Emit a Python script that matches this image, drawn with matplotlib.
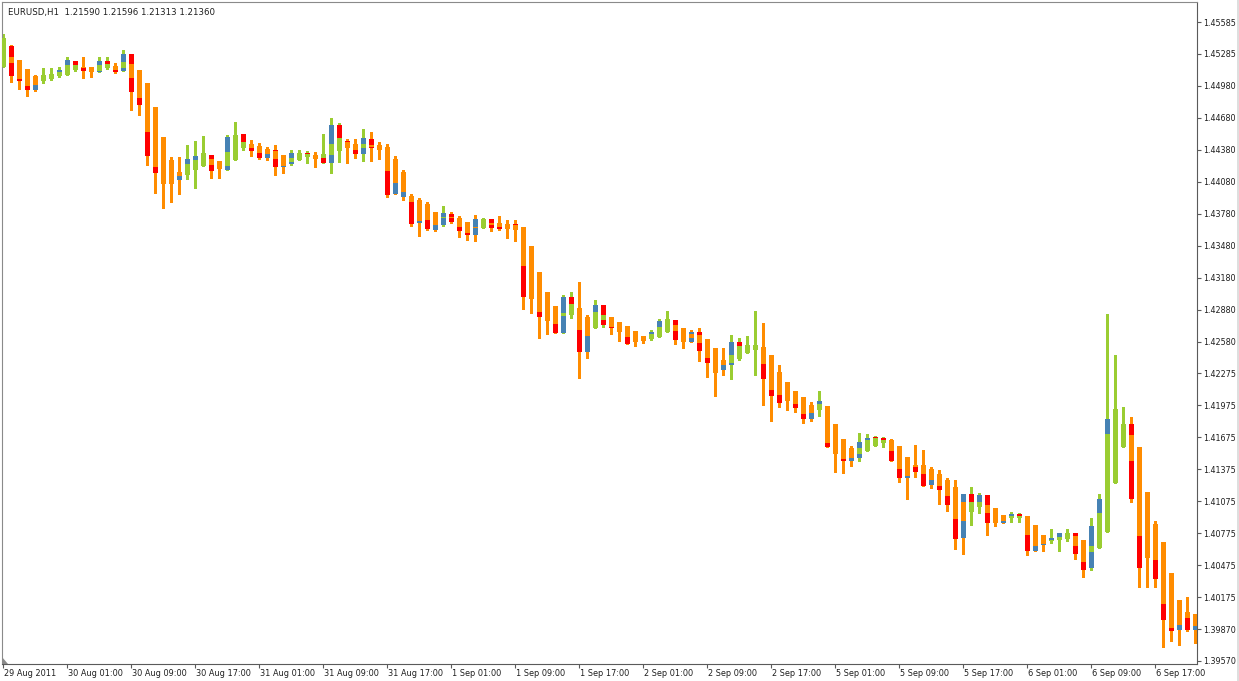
import matplotlib
matplotlib.use("Agg")
import matplotlib.pyplot as plt
import numpy as np
from matplotlib.patches import Polygon

# ---------------- data ----------------
title_text = "EURUSD,H1  1.21590 1.21596 1.21313 1.21360"

b_open = [
    1.45162, 1.45256, 1.45227, 1.45143, 1.45072, 1.45030, 1.45053, 1.45072, 1.45086, 1.45133,
    1.45164, 1.45164, 1.45127, 1.45155, 1.45171, 1.45149, 1.45187, 1.45133, 1.45011, 1.44785,
    1.44503, 1.44286, 1.44176, 1.44145, 1.44192, 1.44230, 1.44296, 1.44277, 1.44230, 1.44286,
    1.44397, 1.44437, 1.44418, 1.44390, 1.44374, 1.44333, 1.44270, 1.44286, 1.44318, 1.44333,
    1.44302, 1.44333, 1.44374, 1.44453, 1.44434, 1.44397, 1.44428, 1.44428, 1.44412, 1.44296,
    1.44174, 1.43948, 1.43910, 1.43872, 1.43794, 1.43738, 1.43743, 1.43743, 1.43706, 1.43656,
    1.43649, 1.43691, 1.43691, 1.43684, 1.43675, 1.43656, 1.43477, 1.43230, 1.43042, 1.42913,
    1.42821, 1.42828, 1.42891, 1.42812, 1.42708, 1.42781, 1.42806, 1.42765, 1.42724, 1.42677,
    1.42630, 1.42602, 1.42624, 1.42665, 1.42734, 1.42708, 1.42646, 1.42640, 1.42602, 1.42514,
    1.42404, 1.42373, 1.42414, 1.42473, 1.42499, 1.42524, 1.42451, 1.42292, 1.42197, 1.42113,
    1.42053, 1.41981, 1.41934, 1.41972, 1.41802, 1.41661, 1.41579, 1.41520, 1.41551, 1.41595,
    1.41626, 1.41652, 1.41595, 1.41492, 1.41416, 1.41416, 1.41379, 1.41332, 1.41275, 1.41207,
    1.41062, 1.40974, 1.41015, 1.41040, 1.41012, 1.40946, 1.40915, 1.40920, 1.40936, 1.40852,
    1.40758, 1.40695, 1.40711, 1.40717, 1.40748, 1.40711, 1.40600, 1.40629, 1.40789, 1.41250,
    1.41589, 1.41699, 1.41589, 1.41162, 1.40861, 1.40692, 1.40397, 1.40146, 1.40033, 1.40011,
]

b_close = [
    1.45434, 1.45199, 1.45044, 1.44983, 1.44992, 1.45086, 1.45096, 1.45110, 1.45180, 1.45180,
    1.45149, 1.45117, 1.45180, 1.45190, 1.45133, 1.45211, 1.45058, 1.44870, 1.44553, 1.44223,
    1.44061, 1.44061, 1.44136, 1.44246, 1.44282, 1.44355, 1.44239, 1.44199, 1.44362, 1.44522,
    1.44459, 1.44397, 1.44349, 1.44340, 1.44293, 1.44230, 1.44308, 1.44349, 1.44340, 1.44293,
    1.44343, 1.44437, 1.44491, 1.44397, 1.44381, 1.44434, 1.44406, 1.44381, 1.44183, 1.44067,
    1.43985, 1.43894, 1.43712, 1.43722, 1.43675, 1.43753, 1.43738, 1.43659, 1.43602, 1.43647,
    1.43731, 1.43675, 1.43659, 1.43634, 1.43628, 1.43292, 1.42978, 1.42853, 1.42771, 1.42743,
    1.42844, 1.42929, 1.42687, 1.42630, 1.42853, 1.42828, 1.42718, 1.42671, 1.42624, 1.42577,
    1.42583, 1.42646, 1.42712, 1.42790, 1.42677, 1.42577, 1.42609, 1.42567, 1.42420, 1.42285,
    1.42357, 1.42451, 1.42539, 1.42546, 1.42546, 1.42367, 1.42122, 1.42075, 1.42019, 1.41988,
    1.41896, 1.41903, 1.41990, 1.41621, 1.41520, 1.41470, 1.41485, 1.41574, 1.41652, 1.41668,
    1.41652, 1.41548, 1.41379, 1.41313, 1.41398, 1.41332, 1.41275, 1.41219, 1.41125, 1.40908,
    1.40892, 1.41062, 1.41071, 1.40962, 1.40873, 1.40889, 1.40936, 1.40936, 1.40758, 1.40654,
    1.40673, 1.40711, 1.40736, 1.40774, 1.40654, 1.40506, 1.40654, 1.40962, 1.41708, 1.41943,
    1.41802, 1.41454, 1.40742, 1.40544, 1.40522, 1.40108, 1.39880, 1.39911, 1.39979, 1.39895,
]

high = [
    1.45472, 1.45369, 1.45227, 1.45143, 1.45086, 1.45152, 1.45152, 1.45162, 1.45256, 1.45218,
    1.45256, 1.45164, 1.45256, 1.45251, 1.45196, 1.45322, 1.45284, 1.45133, 1.45011, 1.44785,
    1.44503, 1.44315, 1.44318, 1.44428, 1.44465, 1.44512, 1.44333, 1.44277, 1.44522, 1.44644,
    1.44528, 1.44475, 1.44444, 1.44412, 1.44428, 1.44333, 1.44381, 1.44381, 1.44374, 1.44359,
    1.44531, 1.44679, 1.44637, 1.44481, 1.44481, 1.44578, 1.44553, 1.44453, 1.44434, 1.44324,
    1.44192, 1.43966, 1.43929, 1.43891, 1.43797, 1.43854, 1.43800, 1.43762, 1.43706, 1.43769,
    1.43743, 1.43731, 1.43759, 1.43722, 1.43722, 1.43656, 1.43477, 1.43230, 1.43042, 1.42913,
    1.43016, 1.43042, 1.43136, 1.42828, 1.42969, 1.42922, 1.42806, 1.42765, 1.42724, 1.42677,
    1.42630, 1.42687, 1.42790, 1.42866, 1.42781, 1.42708, 1.42687, 1.42703, 1.42602, 1.42520,
    1.42514, 1.42640, 1.42609, 1.42633, 1.42866, 1.42755, 1.42451, 1.42357, 1.42197, 1.42113,
    1.42053, 1.42012, 1.42115, 1.41972, 1.41802, 1.41661, 1.41595, 1.41715, 1.41708, 1.41689,
    1.41683, 1.41658, 1.41595, 1.41492, 1.41605, 1.41558, 1.41400, 1.41369, 1.41291, 1.41275,
    1.41144, 1.41212, 1.41156, 1.41134, 1.41012, 1.40946, 1.40968, 1.40962, 1.40936, 1.40852,
    1.40758, 1.40811, 1.40774, 1.40811, 1.40774, 1.40711, 1.40915, 1.41141, 1.42837, 1.42451,
    1.41965, 1.41871, 1.41589, 1.41162, 1.40892, 1.40692, 1.40397, 1.40146, 1.40170, 1.40011,
]

low = [
    1.45162, 1.45020, 1.44955, 1.44889, 1.44936, 1.45011, 1.45039, 1.45067, 1.45086, 1.45124,
    1.45058, 1.45063, 1.45117, 1.45143, 1.45108, 1.45124, 1.44757, 1.44705, 1.44239, 1.43973,
    1.43832, 1.43894, 1.43966, 1.44108, 1.44023, 1.44230, 1.44117, 1.44120, 1.44192, 1.44286,
    1.44381, 1.44327, 1.44293, 1.44286, 1.44145, 1.44167, 1.44239, 1.44282, 1.44261, 1.44223,
    1.44261, 1.44167, 1.44270, 1.44255, 1.44308, 1.44280, 1.44280, 1.44293, 1.43935, 1.43966,
    1.43910, 1.43668, 1.43574, 1.43628, 1.43618, 1.43668, 1.43691, 1.43565, 1.43534, 1.43527,
    1.43649, 1.43621, 1.43630, 1.43555, 1.43527, 1.42884, 1.42844, 1.42609, 1.42646, 1.42658,
    1.42656, 1.42802, 1.42238, 1.42426, 1.42708, 1.42718, 1.42646, 1.42586, 1.42555, 1.42539,
    1.42562, 1.42593, 1.42624, 1.42665, 1.42555, 1.42520, 1.42574, 1.42398, 1.42247, 1.42066,
    1.42263, 1.42223, 1.42404, 1.42473, 1.42263, 1.41981, 1.41833, 1.41965, 1.41934, 1.41918,
    1.41814, 1.41833, 1.41877, 1.41583, 1.41353, 1.41344, 1.41410, 1.41457, 1.41551, 1.41595,
    1.41589, 1.41454, 1.41254, 1.41096, 1.41306, 1.41219, 1.41197, 1.41049, 1.40986, 1.40623,
    1.40579, 1.40852, 1.40962, 1.40758, 1.40845, 1.40873, 1.40883, 1.40883, 1.40569, 1.40610,
    1.40610, 1.40680, 1.40610, 1.40695, 1.40529, 1.40365, 1.40428, 1.40629, 1.40789, 1.41250,
    1.41589, 1.41071, 1.40266, 1.40266, 1.40266, 1.39701, 1.39754, 1.39723, 1.39848, 1.39739,
]

# second (overlay) candle body: None where it is not visible
a_open = [
    None, 1.45359, 1.45044, 1.44983, 1.44945, None, None, 1.45110, 1.45180, 1.45221,
    1.45149, None, 1.45117, 1.45218, 1.45133, 1.45124, 1.45284, 1.44870, 1.44553, 1.44223,
    None, None, 1.44098, 1.44246, 1.44282, None, 1.44333, None, 1.44192, None,
    1.44528, 1.44397, 1.44349, 1.44302, 1.44381, 1.44221, 1.44249, None, 1.44355, None,
    1.44302, 1.44261, 1.44616, 1.44460, 1.44381, 1.44343, 1.44484, None, 1.44183, 1.43966,
    1.43938, 1.43919, 1.43691, 1.43722, 1.43628, 1.43675, 1.43778, 1.43659, 1.43602, 1.43581,
    None, 1.43731, 1.43659, None, 1.43681, 1.43292, None, 1.42853, None, 1.42743,
    1.42661, 1.43000, 1.42687, 1.42483, 1.42853, 1.42922, 1.42718, None, 1.42624, None,
    None, 1.42646, 1.42712, None, 1.42781, None, 1.42577, 1.42671, 1.42420, None,
    1.42310, 1.42357, 1.42577, None, None, 1.42367, 1.42122, 1.42075, None, 1.41988,
    1.41896, 1.41849, 1.41990, 1.41621, None, 1.41470, 1.41457, 1.41485, 1.41652, 1.41683,
    1.41668, 1.41548, 1.41379, 1.41297, 1.41416, 1.41332, 1.41228, 1.41219, 1.41125, 1.40908,
    1.40732, 1.41144, 1.41071, 1.41134, None, 1.40873, 1.40915, 1.40955, 1.40758, 1.40610,
    1.40664, 1.40711, 1.40736, None, 1.40774, 1.40506, 1.40444, 1.40962, 1.41708, None,
    None, 1.41802, 1.40742, None, 1.40522, 1.40108, 1.39880, 1.39864, 1.39979, 1.39864,
]

a_close = [
    None, 1.45077, 1.45030, 1.44945, 1.44992, None, None, 1.45133, 1.45227, 1.45180,
    1.45124, None, 1.45218, 1.45190, 1.45117, 1.45284, 1.44929, 1.44804, 1.44324, 1.44167,
    None, None, 1.44136, 1.44296, 1.44324, None, 1.44183, None, 1.44506, None,
    1.44459, 1.44374, 1.44302, 1.44340, 1.44223, 1.44230, 1.44349, None, 1.44340, None,
    1.44261, 1.44616, 1.44491, 1.44453, 1.44343, 1.44496, 1.44395, None, 1.43957, 1.44067,
    1.43985, 1.43681, 1.43712, 1.43634, 1.43675, 1.43785, 1.43706, 1.43618, 1.43581, 1.43731,
    None, 1.43644, 1.43634, None, 1.43623, 1.43000, None, 1.42812, None, 1.42661,
    1.43000, 1.42929, 1.42483, 1.42630, 1.42922, 1.42734, 1.42708, None, 1.42555, None,
    None, 1.42671, 1.42771, None, 1.42593, None, 1.42671, 1.42492, 1.42379, None,
    1.42357, 1.42577, 1.42539, None, None, 1.42226, 1.42066, 1.42003, None, 1.41955,
    1.41849, 1.41903, 1.42019, 1.41583, None, 1.41454, 1.41485, 1.41630, 1.41668, 1.41668,
    1.41652, 1.41454, 1.41291, 1.41313, 1.41350, 1.41219, 1.41275, 1.41181, 1.41040, 1.40720,
    1.41144, 1.41062, 1.41134, 1.40873, None, 1.40889, 1.40955, 1.40936, 1.40610, 1.40654,
    1.40673, 1.40732, 1.40774, None, 1.40579, 1.40428, 1.40842, 1.41096, 1.41849, None,
    None, 1.41096, 1.40450, None, 1.40344, 1.39958, 1.39854, 1.39911, 1.39864, 1.39895,
]

x_tick_labels = [
    "29 Aug 2011", "30 Aug 01:00", "30 Aug 09:00", "30 Aug 17:00", "31 Aug 01:00",
    "31 Aug 09:00", "31 Aug 17:00", "1 Sep 01:00", "1 Sep 09:00", "1 Sep 17:00",
    "2 Sep 01:00", "2 Sep 09:00", "2 Sep 17:00", "5 Sep 01:00", "5 Sep 09:00",
    "5 Sep 17:00", "6 Sep 01:00", "6 Sep 09:00", "6 Sep 17:00",
]
bars_per_label = 8

y_tick_labels = [
    "1.39570", "1.39870", "1.40175", "1.40475", "1.40775", "1.41075", "1.41375",
    "1.41675", "1.41975", "1.42275", "1.42580", "1.42880", "1.43180", "1.43480",
    "1.43780", "1.44080", "1.44380", "1.44680", "1.44980", "1.45285", "1.45585",
]

# ---------------- style ----------------
BEAR_B = "#FF8C00"
BULL_B = "#9ACD32"
BEAR_A = "#FF0000"
BULL_A = "#4682B4"
TXT = "#1e1e1e"
AXC = "#5a5a5a"

W, H = 1239, 681
fig = plt.figure(figsize=(W / 100, H / 100), dpi=100)
fig.patch.set_facecolor("white")
L, R, T, B = 2, 1197, 2, 664
ax = fig.add_axes([L / W, (H - B) / H, (R - L) / W, (B - T) / H])
ax.set_facecolor("white")

n = len(b_open)
xs = np.arange(n)
bw = 0.69
minh = 0.00009

for i in range(n):
    bo, bc = b_open[i], b_close[i]
    bcol = BEAR_B if bc < bo else BULL_B
    # overlay body (lowest layer)
    if a_open[i] is not None:
        ao, ac = a_open[i], a_close[i]
        acol = BEAR_A if ac < ao else BULL_A
        ax.bar(xs[i], max(abs(ac - ao), minh), bottom=min(ao, ac), width=bw,
               color=acol, linewidth=0, zorder=3, antialiased=False)
    # wick
    ax.vlines(xs[i], low[i], high[i], colors=bcol, linewidth=0.8, zorder=2,
              antialiased=False)
    # main body
    ax.bar(xs[i], max(abs(bc - bo), minh), bottom=min(bo, bc), width=bw,
           color=bcol, linewidth=0, zorder=4, antialiased=False)

# axes limits follow the price scale of the reference
ytick_pos = np.linspace(float(y_tick_labels[0]), float(y_tick_labels[-1]), len(y_tick_labels))
step = (ytick_pos[-1] - ytick_pos[0]) / ((len(ytick_pos) - 1) * 31.95)
ax.set_ylim(ytick_pos[0] - 3 * step, ytick_pos[-1] + 20 * step)
ax.set_xlim((L - 3.3) / 8.0, (R - 3.3) / 8.0)

ax.yaxis.tick_right()
ax.set_yticks(ytick_pos)
ax.set_yticklabels(y_tick_labels)
ax.tick_params(axis="y", direction="out", length=2.9, width=0.8, color=AXC,
               pad=1.3, labelsize=5.8, labelcolor=TXT)
for lab in ax.get_yticklabels():
    lab.set_fontfamily("DejaVu Sans")

xt = np.arange(len(x_tick_labels)) * bars_per_label
ax.set_xticks(xt)
ax.set_xticklabels([])
ax.tick_params(axis="x", direction="out", length=3, width=0.8, color=AXC)
for pos, lab in zip(xt, x_tick_labels):
    ax.annotate(lab, xy=(pos, 0), xycoords=("data", "axes fraction"),
                xytext=(0.4, -6.6), textcoords="offset points",
                ha="left", va="center", fontsize=5.9, color=TXT,
                family="DejaVu Sans", annotation_clip=False)

for side in ["left", "top"]:
    ax.spines[side].set_color("#8a8a8a")
    ax.spines[side].set_linewidth(0.8)
for side in ["right", "bottom"]:
    ax.spines[side].set_color(AXC)
    ax.spines[side].set_linewidth(0.8)

ax.text(6 / (R - L), 1 - 10 / (B - T), title_text, transform=ax.transAxes,
        ha="left", va="center", fontsize=6.2, color=TXT, family="DejaVu Sans")

# small shift marker in the lower-left corner
tri = Polygon([[L / W, (H - 657) / H], [L / W, (H - B) / H], [(L + 6) / W, (H - B) / H]],
              closed=True, transform=fig.transFigure, facecolor="#8a8a8a",
              edgecolor="none", zorder=10)
fig.patches.append(tri)

# right window edge
fig.add_artist(plt.Line2D([1237.5 / W, 1237.5 / W], [0, 1], transform=fig.transFigure,
                          color="#d8d8d8", linewidth=1.2))

fig.savefig("out.png", dpi=100, facecolor="white")
